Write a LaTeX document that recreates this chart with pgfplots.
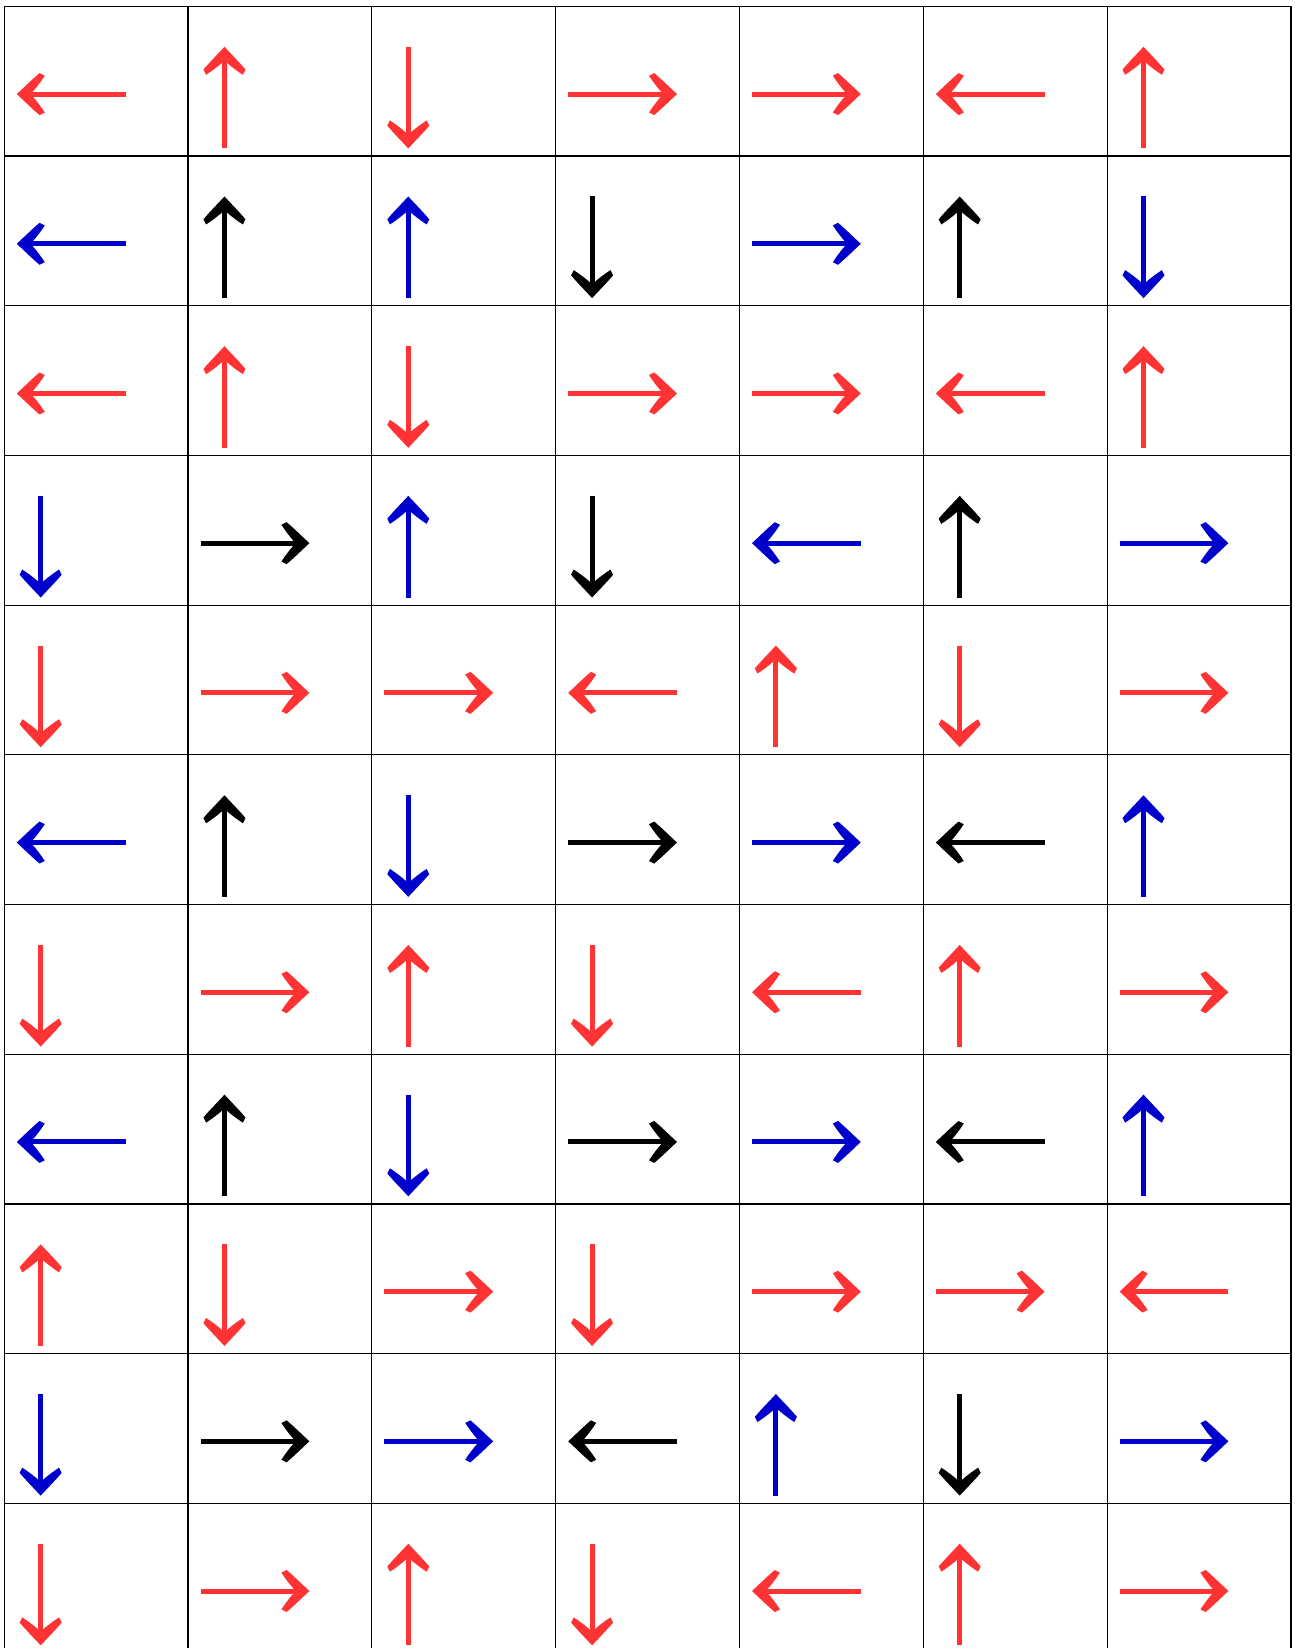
\documentclass[border=0pt]{standalone}
\usepackage{pgfplots}
\usepackage{pgfplotstable}
\pgfplotsset{compat=1.18}
\usetikzlibrary{arrows.meta}
\definecolor{ared}{RGB}{255,51,51}
\definecolor{ablue}{RGB}{0,0,204}

\pgfdeclarearrow{
  name = CMhead,
  setup code = {
    \pgfarrowssettipend{0pt}
    \pgfarrowssetlineend{-3.4pt}
    \pgfarrowssetbackend{-7.0pt}
  },
  drawing code = {
    \pgfpathmoveto{\pgfqpoint{0pt}{0pt}}
    \pgfpathcurveto{\pgfqpoint{-1.9pt}{1.75pt}}{\pgfqpoint{-3.8pt}{3.65pt}}{\pgfqpoint{-5.7pt}{5.25pt}}
    \pgfpathlineto{\pgfqpoint{-7.0pt}{4.6pt}}
    \pgfpathcurveto{\pgfqpoint{-6.1pt}{3.2pt}}{\pgfqpoint{-4.8pt}{1.5pt}}{\pgfqpoint{-4.0pt}{0.625pt}}
    \pgfpathlineto{\pgfqpoint{-4.0pt}{-0.625pt}}
    \pgfpathcurveto{\pgfqpoint{-4.8pt}{-1.5pt}}{\pgfqpoint{-6.1pt}{-3.2pt}}{\pgfqpoint{-7.0pt}{-4.6pt}}
    \pgfpathlineto{\pgfqpoint{-5.7pt}{-5.25pt}}
    \pgfpathcurveto{\pgfqpoint{-3.8pt}{-3.65pt}}{\pgfqpoint{-1.9pt}{-1.75pt}}{\pgfqpoint{0pt}{0pt}}
    \pgfpathclose
    \pgfusepathqfill
  },
  parameters = {},
}

\pgfplotstableread{
x y u v
0.66 10.414 -0.592 0
1.198 10.051 0 0.679
2.198 10.73 0 -0.679
3.068 10.414 0.592 0
4.068 10.414 0.592 0
5.66 10.414 -0.592 0
6.198 10.051 0 0.679
0.66 8.414 -0.592 0
1.198 8.051 0 0.679
2.198 8.73 0 -0.679
3.068 8.414 0.592 0
4.068 8.414 0.592 0
5.66 8.414 -0.592 0
6.198 8.051 0 0.679
0.198 6.73 0 -0.679
1.068 6.414 0.592 0
2.068 6.414 0.592 0
3.66 6.414 -0.592 0
4.198 6.051 0 0.679
5.198 6.73 0 -0.679
6.068 6.414 0.592 0
0.198 4.73 0 -0.679
1.068 4.414 0.592 0
2.198 4.051 0 0.679
3.198 4.73 0 -0.679
4.66 4.414 -0.592 0
5.198 4.051 0 0.679
6.068 4.414 0.592 0
0.198 2.051 0 0.679
1.198 2.73 0 -0.679
2.068 2.414 0.592 0
3.198 2.73 0 -0.679
4.068 2.414 0.592 0
5.068 2.414 0.592 0
6.66 2.414 -0.592 0
0.198 0.73 0 -0.679
1.068 0.414 0.592 0
2.198 0.051 0 0.679
3.198 0.73 0 -0.679
4.66 0.414 -0.592 0
5.198 0.051 0 0.679
6.068 0.414 0.592 0
}\redtab

\pgfplotstableread{
x y u v
0.66 9.414 -0.592 0
2.198 9.051 0 0.679
4.068 9.414 0.592 0
6.198 9.73 0 -0.679
0.198 7.73 0 -0.679
2.198 7.051 0 0.679
4.66 7.414 -0.592 0
6.068 7.414 0.592 0
0.66 5.414 -0.592 0
2.198 5.73 0 -0.679
4.068 5.414 0.592 0
6.198 5.051 0 0.679
0.66 3.414 -0.592 0
2.198 3.73 0 -0.679
4.068 3.414 0.592 0
6.198 3.051 0 0.679
0.198 1.73 0 -0.679
2.068 1.414 0.592 0
4.198 1.051 0 0.679
6.068 1.414 0.592 0
}\bluetab

\pgfplotstableread{
x y u v
1.198 9.051 0 0.679
3.198 9.73 0 -0.679
5.198 9.051 0 0.679
1.068 7.414 0.592 0
3.198 7.73 0 -0.679
5.198 7.051 0 0.679
1.198 5.051 0 0.679
3.068 5.414 0.592 0
5.66 5.414 -0.592 0
1.198 3.051 0 0.679
3.068 3.414 0.592 0
5.66 3.414 -0.592 0
1.068 1.414 0.592 0
3.66 1.414 -0.592 0
5.198 1.73 0 -0.679
}\blacktab

\tikzset{cmtip/.style={-{CMhead}}}

\begin{document}
\begin{tikzpicture}
\begin{axis}[
  scale only axis,
  width=321.7pt, height=411.7pt,
  xmin=0, xmax=7, ymin=0, ymax=11,
  xtick={1,2,3,4,5,6}, ytick={1,2,3,4,5,6,7,8,9,10},
  xticklabels={}, yticklabels={},
  major tick length=0pt,
  grid=major,
  grid style={black, line width=0.3pt, solid},
  axis line style={black, line width=0.3pt},
]
\coordinate (BL) at (rel axis cs:0,0);
\coordinate (TR) at (rel axis cs:1,1);
\addplot[ared, line width=1.25pt, quiver={u=\thisrow{u}, v=\thisrow{v}},
  cmtip] table[x=x, y=y] {\redtab};
\addplot[ablue, line width=1.25pt, quiver={u=\thisrow{u}, v=\thisrow{v}},
  cmtip] table[x=x, y=y] {\bluetab};
\addplot[black, line width=1.25pt, quiver={u=\thisrow{u}, v=\thisrow{v}},
  cmtip] table[x=x, y=y] {\blacktab};
\end{axis}
\pgfresetboundingbox
\useasboundingbox ([shift={(-1.07pt,1.25pt)}]BL) rectangle ([shift={(1pt,1.6pt)}]TR);
\end{tikzpicture}
\end{document}
